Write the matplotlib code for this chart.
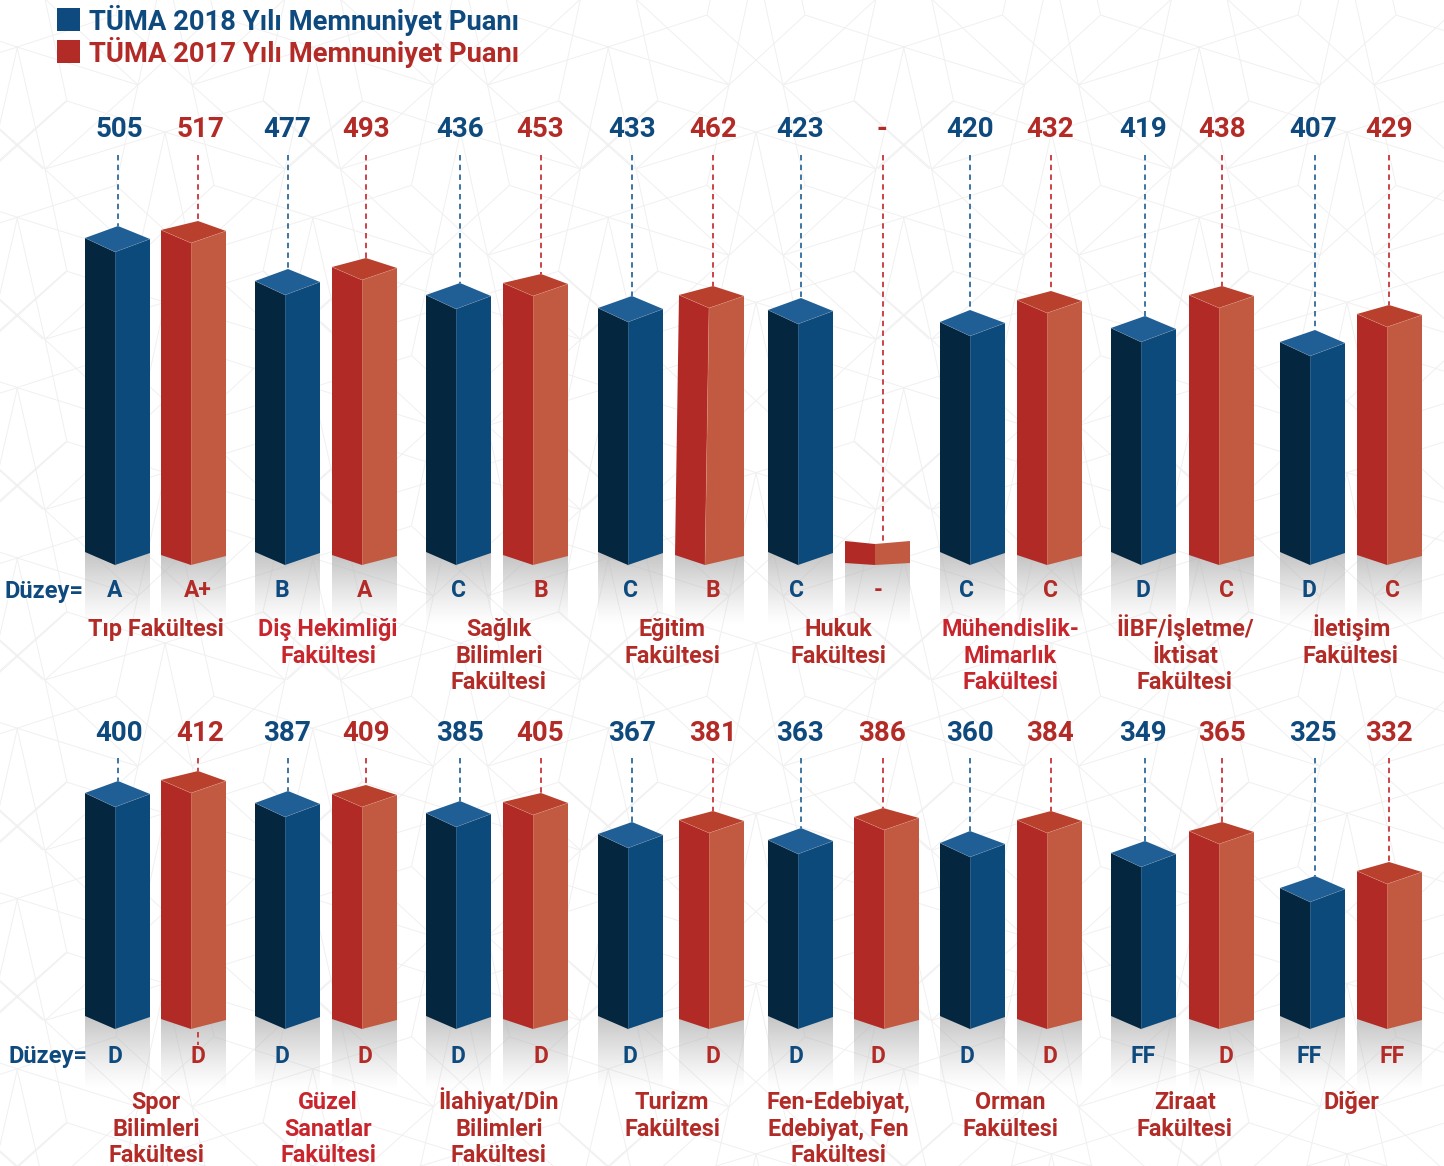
import numpy as np
import matplotlib
matplotlib.use("Agg")
import matplotlib.pyplot as plt
from matplotlib.patches import Polygon, Rectangle
from matplotlib.collections import LineCollection

# ---------------- data ----------------
faculties_top = ["Tıp Fakültesi", "Diş Hekimliği\nFakültesi", "Sağlık\nBilimleri\nFakültesi",
                 "Eğitim\nFakültesi", "Hukuk\nFakültesi", "Mühendislik-\nMimarlık\nFakültesi",
                 "İİBF/İşletme/\nİktisat\nFakültesi", "İletişim\nFakültesi"]
scores_2018_top = [505, 477, 436, 433, 423, 420, 419, 407]
scores_2017_top = [517, 493, 453, 462, None, 432, 438, 429]
levels_2018_top = ["A", "B", "C", "C", "C", "C", "D", "D"]
levels_2017_top = ["A+", "A", "B", "B", "-", "C", "C", "C"]
# drawn bar heights (the original is not to scale)
drawn_2018_top = [339, 296, 282, 269, 267, 255, 249, 235]
drawn_2017_top = [344, 307, 291, 279, 24, 274, 279, 260]

faculties_bottom = ["Spor\nBilimleri\nFakültesi", "Güzel\nSanatlar\nFakültesi", "İlahiyat/Din\nBilimleri\nFakültesi",
                    "Turizm\nFakültesi", "Fen-Edebiyat,\nEdebiyat, Fen\nFakültesi", "Orman\nFakültesi",
                    "Ziraat\nFakültesi", "Diğer"]
scores_2018_bottom = [400, 387, 385, 367, 363, 360, 349, 325]
scores_2017_bottom = [412, 409, 405, 381, 386, 384, 365, 332]
levels_2018_bottom = ["D", "D", "D", "D", "D", "D", "FF", "FF"]
levels_2017_bottom = ["D", "D", "D", "D", "D", "D", "D", "FF"]
drawn_2018_bottom = [248, 238, 228, 207, 201, 198, 188, 153]
drawn_2017_bottom = [258, 244, 236, 218, 221, 218, 207, 167]

legend_labels = ["TÜMA 2018 Yılı Memnuniyet Puanı", "TÜMA 2017 Yılı Memnuniyet Puanı"]

# ---------------- layout / style ----------------
W, H = 1444, 1166
FONT = "Roboto"
BLUE = "#0e4a7d"
RED = "#b32b27"
BRIGHT = "#c9252d"
S18 = dict(left="#05263f", right="#0d4a7c", top="#205f96", rise=13, front=26, seam="#7f93a8", dash="#2f6a9c", mid=30)
S17 = dict(left="#b22a25", right="#c15a40", top="#b9402d", rise=10, front=22, seam="#e6a896", dash="#c8353a", mid=30)
BAR_W = 65
x18 = [85, 255, 426, 598, 768, 940, 1111, 1280]
x17_top = [161, 332, 503, 679, 845, 1017, 1189, 1357]
x17_bottom = [161, 332, 503, 679, 854, 1017, 1189, 1357]
apex18 = [118, 288, 460, 632, 801, 970, 1145, 1315]
apex17 = [198, 366, 541, 713, 883, 1051, 1222, 1389]
val18 = [119, 287, 460, 632, 800, 970, 1143, 1313]
val17 = [200, 366, 540, 713, 882, 1050, 1222, 1389]
lvl18 = [115, 282, 458, 630, 796, 967, 1143, 1309]
lvl17 = [198, 365, 541, 713, 878, 1050, 1226, 1392]
cat_x = [156, 328, 499, 672, 838, 1010, 1185, 1351]

fig = plt.figure(figsize=(W / 100, H / 100), dpi=100, facecolor="white")

# background mesh on a pixel-scaled axes
bg = fig.add_axes([0, 0, 1, 1], zorder=0)
bg.set_xlim(0, W); bg.set_ylim(H, 0); bg.axis("off")
PX, PY = 295.5, 170.3
half = [((17, 47), (138, 85)), ((17, 47), (116, 15)), ((17, 47), (45, 169)),
        ((165, -38), (138, 85)), ((138, 85), (116, 185)), ((138, 85), (45, 169)),
        ((138, 85), (45, -1)), ((138, 85), (214, 15)), ((67, 101), (165, 132)),
        ((67, 101), (45, -1)), ((67, 101), (-8.5, 169)), ((45, 169), (165, 132)),
        ((45, 169), (-31.5, 101))]
tile = half + [((330 - a[0], a[1]), (330 - b[0], b[1])) for a, b in half]
segs = []
for i in range(-1, 7):
    for j in range(-1, 8):
        for a, b in tile:
            segs.append([(a[0] + i * PX, a[1] + j * PY), (b[0] + i * PX, b[1] + j * PY)])
bg.add_collection(LineCollection(segs, colors="#f0f0f0", linewidths=0.7, zorder=0))

# legend
for lab, col, y in zip(legend_labels, [BLUE, RED], [19.5, 51.5]):
    bg.add_patch(Rectangle((57, y - 11.5), 22.5, 23, fc=col, ec="none", zorder=3))
    bg.text(89, y + 11, lab, color=col, fontsize=19.75, fontweight="bold", family=FONT, va="baseline", ha="left", zorder=4)

grad = np.ones((64, 1, 4))
grad[..., :3] = 0.70
grad[:, 0, 3] = np.linspace(0.8, 0.0, 64) ** 1.2


def bar(ax, x0, apex, h, s, lean=0, flat=False):
    xm = x0 + s["mid"]
    xr = x0 + BAR_W
    r = s["rise"]
    ax.imshow(grad, extent=(x0 + lean, xr, -60, r), aspect="auto", zorder=2, interpolation="bilinear")
    if flat:
        ax.add_patch(Polygon([(x0, 2), (xm, 0), (xm, h - 3), (x0, h)], fc=s["left"], ec="none", zorder=3))
        ax.add_patch(Polygon([(xm, 0), (xr, 2), (xr, h), (xm, h - 3)], fc=s["right"], ec="none", zorder=3))
        return
    top_l = h - r + 1
    top_m = h - s["front"]
    ax.add_patch(Polygon([(x0 + lean, r), (xm + lean, 0), (xm, top_m), (x0, top_l)],
                         fc=s["left"], ec="none", zorder=3))
    ax.add_patch(Polygon([(xm + lean, 0), (xr, r - 1), (xr, top_l - 1), (xm, top_m)],
                         fc=s["right"], ec="none", zorder=3))
    ax.add_patch(Polygon([(x0, top_l), (apex, h), (xr, top_l - 1), (xm, top_m)],
                         fc=s["top"], ec="none", zorder=3))
    ax.plot([xm + lean, xm], [0, top_m], color=s["seam"], lw=0.4, alpha=0.5, zorder=4)
    ax.plot([x0, xm, xr], [top_l, top_m, top_l - 1], color=s["seam"], lw=0.4, alpha=0.5, zorder=4)


def row(base, y_top, y_bot, faculties, x17, sc18, sc17, lv18, lv17, dr18, dr17, y_val, y_lvl, y_dash, cat_ys, y_dz, x_dz):
    ax = fig.add_axes([0, 1 - y_bot / H, 1, (y_bot - y_top) / H], zorder=1)
    ax.set_facecolor("none")
    ax.axis("off")
    yy = lambda px: base - px

    for i in range(len(faculties)):
        for x0, apex, vx, lx, val, lv, dr, s, col in (
            (x18[i], apex18[i], val18[i], lvl18[i], sc18[i], lv18[i], dr18[i], S18, BLUE),
            (x17[i], apex17[i], val17[i], lvl17[i], sc17[i], lv17[i], dr17[i], S17, RED),
        ):
            flat = val is None
            lean = -4 if (s is S17 and faculties[i].startswith("Eğitim")) else 0
            bar(ax, x0, apex, dr, s, lean=lean, flat=flat)
            ax.plot([apex, apex], [yy(y_dash), dr], color=s["dash"], lw=1.3, ls=(0, (3.0, 2.4)), zorder=1.5)
            ax.text(vx, yy(y_val + 10), "-" if flat else str(val), color=col, fontsize=20, fontweight="bold",
                    family=FONT, ha="center", va="baseline", zorder=5)
            ax.text(lx, yy(y_lvl + 8), lv, color=col, fontsize=16.5, fontweight="bold",
                    family=FONT, ha="center", va="baseline", zorder=5)
        c = BRIGHT if faculties[i].startswith(("Diş", "Güzel", "Mühendislik")) else RED
        for line, yl in zip(faculties[i].split("\n"), cat_ys):
            ax.text(cat_x[i], yy(yl + 8), line, color=c, fontsize=16.8, fontweight="bold",
                    family=FONT, ha="center", va="baseline", zorder=5)
    ax.text(x_dz, yy(y_dz + 8), "Düzey=", color=BLUE, fontsize=17, fontweight="bold", family=FONT,
            ha="left", va="baseline", zorder=5)
    ax.set_xlim(0, W)
    ax.set_ylim(base - y_bot, base - y_top)
    return ax


row(565, 90, 700, faculties_top, x17_top, scores_2018_top, scores_2017_top, levels_2018_top, levels_2017_top,
    drawn_2018_top, drawn_2017_top, 127, 589, 155, [628, 655, 681], 590, 5)
ax2 = row(1029, 700, 1166, faculties_bottom, x17_bottom, scores_2018_bottom, scores_2017_bottom, levels_2018_bottom,
          levels_2017_bottom, drawn_2018_bottom, drawn_2017_bottom, 731, 1055, 758, [1101, 1128, 1154], 1055, 9)
ax2.plot([apex17[0], apex17[0]], [-3, -16], color=S17["dash"], lw=1.3, ls=(0, (3.0, 2.4)), zorder=2.5)

fig.savefig("out.png", dpi=100, facecolor="white")
